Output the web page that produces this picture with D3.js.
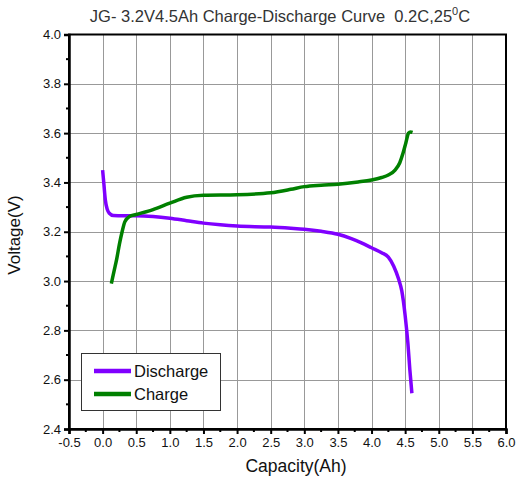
<!DOCTYPE html>
<html>
<head>
<meta charset="utf-8">
<script src="https://cdn.jsdelivr.net/npm/d3@7"></script>
<style>
    body { margin: 0; background: #fff; }
    svg { display: block; font-family: Arial, "Liberation Sans", sans-serif; }
</style>
</head>
<body>
<div id="chart"></div>
<script>
// discharge curve (capacity Ah, voltage V)
const dischargeCap = [0, 0.02, 0.04, 0.07, 0.1, 0.16, 0.3, 0.5, 0.75, 1.0, 1.25, 1.5, 1.75, 2.0, 2.5, 2.8, 3.0, 3.25, 3.5, 3.7, 3.85, 4.0, 4.15, 4.25, 4.33, 4.4, 4.45, 4.5, 4.54, 4.57, 4.6];
const dischargeV = [3.45, 3.39, 3.33, 3.29, 3.275, 3.266, 3.265, 3.265, 3.262, 3.255, 3.245, 3.235, 3.228, 3.223, 3.219, 3.214, 3.21, 3.202, 3.19, 3.172, 3.155, 3.135, 3.115, 3.097, 3.06, 3.01, 2.96, 2.86, 2.75, 2.64, 2.545];

// charge curve
const chargeCap = [0.13, 0.17, 0.21, 0.25, 0.29, 0.33, 0.4, 0.5, 0.75, 1.0, 1.25, 1.5, 2.0, 2.5, 2.8, 3.0, 3.25, 3.5, 3.8, 4.0, 4.15, 4.25, 4.35, 4.42, 4.47, 4.51, 4.55, 4.58, 4.61];
const chargeV = [2.99, 3.04, 3.09, 3.15, 3.2, 3.24, 3.262, 3.27, 3.29, 3.316, 3.34, 3.348, 3.35, 3.358, 3.372, 3.383, 3.389, 3.393, 3.402, 3.41, 3.42, 3.43, 3.45, 3.48, 3.52, 3.56, 3.6, 3.605, 3.603];

const xTicks = [-0.5, 0.0, 0.5, 1.0, 1.5, 2.0, 2.5, 3.0, 3.5, 4.0, 4.5, 5.0, 5.5, 6.0];
const yTicks = [2.4, 2.6, 2.8, 3.0, 3.2, 3.4, 3.6, 3.8, 4.0];
const seriesNames = ["Discharge", "Charge"];
const seriesColors = ["#8000ff", "#008000"];

const width = 517, height = 480;
const area = { left: 69, right: 506, top: 34.5, bottom: 429 };

const svg = d3.select("#chart").append("svg")
    .attr("width", width)
    .attr("height", height);

const x = d3.scaleLinear().domain([-0.5, 6.0]).range([area.left, area.right]);
const y = d3.scaleLinear().domain([2.4, 4.0]).range([area.bottom, area.top]);

// hyphen instead of unicode minus, like the original
const fmt = d => d3.format(".1f")(d).replace("\u2212", "-");

// grid lines
const grid = svg.append("g").attr("stroke", "#999").attr("stroke-width", 1);
grid.selectAll("line.v")
    .data(xTicks.filter(d => d > -0.5 && d < 6.0))
    .join("line")
    .attr("x1", d => Math.round(x(d)) + 0.5).attr("x2", d => Math.round(x(d)) + 0.5)
    .attr("y1", area.top).attr("y2", area.bottom);
grid.selectAll("line.h")
    .data(yTicks.filter(d => d > 2.4 && d < 4.0))
    .join("line")
    .attr("x1", area.left).attr("x2", area.right)
    .attr("y1", d => Math.round(y(d)) + 0.5).attr("y2", d => Math.round(y(d)) + 0.5);

// curves
const line = d3.line()
    .x(d => x(d[0]))
    .y(d => y(d[1]))
    .curve(d3.curveMonotoneX);

const series = [
    d3.zip(dischargeCap, dischargeV),
    d3.zip(chargeCap, chargeV)
];

svg.append("g").selectAll("path")
    .data(series)
    .join("path")
    .attr("d", line)
    .attr("fill", "none")
    .attr("stroke", (d, i) => seriesColors[i])
    .attr("stroke-width", 3.5)
    .attr("stroke-linejoin", "round");

// frame
svg.append("rect")
    .attr("x", area.left).attr("y", area.top)
    .attr("width", area.right - area.left)
    .attr("height", area.bottom - area.top)
    .attr("fill", "none")
    .attr("stroke", "#000")
    .attr("stroke-width", 2);

// axes
const minorX = d3.range(-0.5, 6.0001, 0.25).filter(d => Math.abs(d * 2 - Math.round(d * 2)) > 0.01);
const minorY = d3.range(2.4, 4.0001, 0.1).filter(d => Math.abs(d * 5 - Math.round(d * 5)) > 0.01);

const xAxis = svg.append("g")
    .attr("transform", `translate(0,${area.bottom})`)
    .call(d3.axisBottom(x).tickValues(xTicks).tickFormat(fmt).tickSize(5).tickPadding(4));
xAxis.select(".domain").attr("stroke-width", 2.5);
xAxis.selectAll(".tick line").attr("stroke-width", 2);
xAxis.selectAll(".tick text")
    .attr("font-size", 13).attr("fill", "#111")
    .attr("font-family", "Arial, 'Liberation Sans', sans-serif");
xAxis.selectAll("line.minor")
    .data(minorX)
    .join("line")
    .attr("class", "minor")
    .attr("x1", d => x(d)).attr("x2", d => x(d))
    .attr("y1", 0).attr("y2", 3)
    .attr("stroke", "#000").attr("stroke-width", 2);

const yAxis = svg.append("g")
    .attr("transform", `translate(${area.left},0)`)
    .call(d3.axisLeft(y).tickValues(yTicks).tickFormat(fmt).tickSize(5).tickPadding(3));
yAxis.select(".domain").attr("stroke-width", 2.5);
yAxis.selectAll(".tick line").attr("stroke-width", 2);
yAxis.selectAll(".tick text")
    .attr("font-size", 13).attr("fill", "#111")
    .attr("font-family", "Arial, 'Liberation Sans', sans-serif");
yAxis.selectAll("line.minor")
    .data(minorY)
    .join("line")
    .attr("class", "minor")
    .attr("x1", 0).attr("x2", -3)
    .attr("y1", d => y(d)).attr("y2", d => y(d))
    .attr("stroke", "#000").attr("stroke-width", 2);

// title
const title = svg.append("text")
    .attr("x", 280).attr("y", 22)
    .attr("text-anchor", "middle")
    .attr("font-size", 16.5)
    .attr("fill", "#333")
    .style("white-space", "pre");
title.append("tspan").text("JG- 3.2V4.5Ah Charge-Discharge Curve  0.2C,25");
title.append("tspan").attr("dy", -7).attr("font-size", 11).text("0");
title.append("tspan").attr("dy", 7).text("C");

// axis labels
svg.append("text")
    .attr("x", 296).attr("y", 472)
    .attr("text-anchor", "middle")
    .attr("font-size", 17.5)
    .attr("fill", "#111")
    .text("Capacity(Ah)");

svg.append("text")
    .attr("transform", `translate(20,235) rotate(-90)`)
    .attr("text-anchor", "middle")
    .attr("font-size", 17)
    .attr("fill", "#111")
    .text("Voltage(V)");

// legend
const legend = svg.append("g");
legend.append("rect")
    .attr("x", 81.5).attr("y", 353.5)
    .attr("width", 139).attr("height", 57)
    .attr("fill", "#fff")
    .attr("stroke", "#333")
    .attr("stroke-width", 1);
const items = legend.selectAll("g.item")
    .data(seriesNames)
    .join("g")
    .attr("class", "item")
    .attr("transform", (d, i) => `translate(0,${371 + i * 23})`);
items.append("line")
    .attr("x1", 94).attr("x2", 131)
    .attr("stroke", (d, i) => seriesColors[i])
    .attr("stroke-width", 4.5);
items.append("text")
    .attr("x", 134).attr("y", 6)
    .attr("font-size", 16.5)
    .attr("fill", "#111")
    .text(d => d);
</script>
</body>
</html>
